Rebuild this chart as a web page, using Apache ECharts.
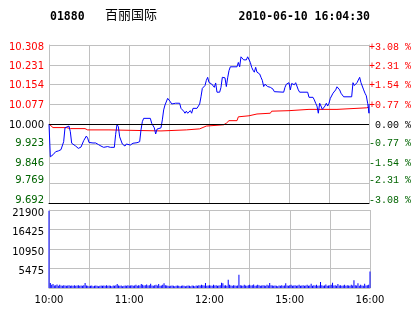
<!DOCTYPE html>
<html>
<head>
<meta charset="utf-8">
<script src="https://cdn.jsdelivr.net/npm/echarts@6/dist/echarts.min.js"></script>
<style>
  html, body { margin: 0; padding: 0; background: #fff; }
  #main { width: 414px; height: 314px; }
</style>
</head>
<body>
<div id="main"></div>
<script>
// 昨收价
var preClose = 10.000;
var stockCode = '01880';
var stockName = '百丽国际';
var quoteTime = '2010-06-10 16:04:30';

// 价格刻度 (左轴)
var priceTicks = [9.692, 9.769, 9.846, 9.923, 10.000, 10.077, 10.154, 10.231, 10.308];
// 成交量刻度
var volTicks = [0, 5475, 10950, 16425, 21900];
// 时间刻度: 分钟序号 -> 标签 (10:00-12:30, 14:30-16:00)
var timeTickMin = [0, 60, 120, 180, 240];
var timeTickLabel = ['10:00', '11:00', '12:00', '15:00', '16:00'];

// 分时价格 (分钟序号, 价格)
var trendMin = [0, 1, 2, 3, 4, 5, 6, 7, 9, 10, 11, 12, 13, 15, 16, 17, 18, 20, 22, 24,
  25, 26, 28, 29, 30, 33, 35, 37, 39, 41, 44, 46, 49, 50, 51, 52, 53, 55, 57, 58,
  61, 62, 63, 66, 68, 69, 70, 71, 76, 77, 79, 80, 81, 82, 84, 85, 86, 87, 89, 90,
  91, 92, 93, 95, 98, 99, 101, 102, 103, 104, 106, 107, 108, 111, 113, 114, 115, 117, 118, 119,
  120, 122, 123, 124, 125, 126, 128, 129, 130, 132, 133, 134, 135, 136, 141, 142, 143, 144, 145, 146,
  148, 149, 150, 151, 152, 153, 154, 155, 156, 158, 159, 160, 161, 162, 163, 164, 165, 166, 168, 169,
  170, 176, 177, 178, 179, 180, 181, 182, 184, 185, 186, 187, 188, 194, 195, 198, 199, 200, 201, 202,
  203, 204, 205, 207, 208, 209, 210, 211, 213, 214, 215, 216, 218, 219, 220, 221, 227, 228, 229, 230,
  231, 233, 234, 235, 236, 237, 238, 239, 240, 240];
var trendPrice = [10.000, 9.872, 9.872, 9.880, 9.886, 9.892, 9.890, 9.895, 9.900, 9.903, 9.931, 9.985, 9.992, 9.992, 9.970, 9.925, 9.918, 9.914, 9.905, 9.910,
  9.905, 9.935, 9.953, 9.945, 9.928, 9.926, 9.926, 9.920, 9.914, 9.909, 9.912, 9.909, 9.909, 9.960, 9.998, 9.990, 9.950, 9.922, 9.914, 9.922,
  9.918, 9.912, 9.925, 9.927, 9.931, 9.977, 10.009, 10.022, 10.022, 10.003, 9.985, 9.961, 9.980, 9.975, 9.985, 10.016, 10.055, 10.074, 10.100, 10.094,
  10.087, 10.078, 10.074, 10.081, 10.081, 10.061, 10.050, 10.042, 10.050, 10.042, 10.052, 10.042, 10.061, 10.061, 10.078, 10.106, 10.139, 10.150, 10.170, 10.182,
  10.162, 10.156, 10.156, 10.143, 10.160, 10.124, 10.124, 10.143, 10.182, 10.180, 10.146, 10.180, 10.208, 10.223, 10.223, 10.240, 10.223, 10.262, 10.262, 10.250,
  10.250, 10.262, 10.262, 10.240, 10.221, 10.210, 10.202, 10.221, 10.202, 10.195, 10.182, 10.170, 10.146, 10.155, 10.158, 10.146, 10.150, 10.143, 10.136, 10.126,
  10.124, 10.124, 10.143, 10.155, 10.162, 10.161, 10.133, 10.158, 10.153, 10.161, 10.155, 10.133, 10.124, 10.124, 10.104, 10.104, 10.094, 10.081, 10.070, 10.042,
  10.081, 10.070, 10.057, 10.070, 10.081, 10.070, 10.081, 10.100, 10.120, 10.124, 10.133, 10.145, 10.133, 10.120, 10.124, 10.106, 10.106, 10.161, 10.150, 10.145,
  10.161, 10.182, 10.161, 10.158, 10.133, 10.120, 10.110, 10.081, 10.042, 10.078];

// 均价线
var avgMin = [0, 1, 3, 13, 16, 27, 29, 45, 46, 84, 85, 103, 104, 113, 114, 118, 119, 131, 133, 135,
  141, 142, 143, 150, 151, 156, 157, 166, 167, 180, 195, 216, 217, 238, 240];
var avgPrice = [10.000, 9.993, 9.986, 9.986, 9.982, 9.982, 9.977, 9.977, 9.973, 9.973, 9.977, 9.977, 9.981, 9.981, 9.986, 9.992, 9.997, 9.997, 10.003, 10.013,
  10.013, 10.028, 10.032, 10.032, 10.039, 10.039, 10.042, 10.042, 10.050, 10.052, 10.057, 10.057, 10.063, 10.063, 10.066];

// 每分钟成交量 (0..240)
var volume = [
  21700, 1400, 900, 1100, 700, 800, 1000, 600, 900, 700, 600, 800, 700, 600, 700, 800, 600, 700, 600, 800,
  600, 700, 800, 600, 700, 600, 800, 1400, 700, 600, 500, 600, 700, 500, 600, 700, 600, 500, 600, 700,
  600, 700, 600, 800, 600, 700, 600, 500, 700, 600, 800, 1100, 700, 600, 700, 500, 600, 700, 600, 800,
  600, 700, 800, 600, 700, 900, 600, 800, 700, 1100, 900, 700, 800, 1000, 700, 800, 1200, 700, 600, 800,
  900, 700, 1100, 600, 700, 900, 1300, 800, 700, 600, 500, 600, 700, 600, 500, 600, 700, 600, 500, 600,
  700, 600, 500, 600, 700, 600, 500, 700, 600, 500, 700, 600, 800, 700, 900, 800, 700, 1400, 600, 700,
  800, 700, 600, 900, 700, 800, 600, 700, 800, 1500, 1300, 700, 800, 600, 2300, 900, 700, 600, 800, 700,
  600, 700, 3700, 800, 700, 600, 900, 700, 600, 800, 900, 700, 800, 1000, 600, 700, 900, 800, 600, 700,
  800, 700, 600, 900, 700, 1400, 800, 700, 600, 700, 600, 500, 700, 600, 800, 600, 700, 1300, 700, 600,
  800, 900, 600, 700, 800, 600, 700, 900, 600, 700, 800, 600, 700, 900, 600, 700, 1200, 600, 800, 700,
  900, 600, 700, 1700, 800, 600, 700, 1000, 600, 700, 800, 900, 1500, 700, 800, 600, 1100, 700, 800, 600,
  700, 900, 600, 800, 700, 600, 900, 700, 2200, 800, 700, 1300, 600, 900, 700, 600, 1200, 700, 800, 900,
  4600
];

var gridColor = '#c0c0c0';
var upColor = '#ff0000';
var downColor = '#006400';

function pairs(xs, ys) {
  var out = [];
  for (var i = 0; i < xs.length; i++) out.push([xs[i], ys[i]]);
  return out;
}
var volData = volume.map(function (v, i) { return [i, v]; });

function priceColor(v) {
  var d = Math.round((v - preClose) * 1000);
  if (d > 0) return upColor;
  if (d < 0) return downColor;
  return '#000';
}
function pctText(v) {
  var p = (v - preClose) / preClose * 100;
  if (Math.abs(p) < 0.005) return ' 0.00 %';
  return (p > 0 ? '+' : '-') + Math.abs(p).toFixed(2) + ' %';
}

// 标签相对网格线的上下偏移 (像素, 正数向下), 按价格刻度序号
var priceLabelShift = [-3, -2.5, -0.5, 0, 1, 1, 1, 2, 2.5];
// 用 rich 文本的 padding 实现偏移
var shiftRich = {};
[-3, -2.5, -0.5, 0, 1, 2, 2.5, 3].forEach(function (s) {
  var key = 's' + String(s).replace('-', 'm').replace('.', '_');
  shiftRich[key] = { padding: s >= 0 ? [2 * s, 0, 0, 0] : [0, 0, -2 * s, 0] };
});
function shifted(text, s) {
  var key = 's' + String(s).replace('-', 'm').replace('.', '_');
  return '{' + key + '|' + text + '}';
}
function priceShift(v) {
  var k = Math.round((v - priceTicks[0]) / 0.077);
  return priceLabelShift[k] || 0;
}

var myChart = echarts.init(document.getElementById('main'));
var labelFont = 'DejaVu Sans';

var option = {
  animation: false,
  backgroundColor: '#fff',
  graphic: [
    { type: 'text', left: 50, top: 11, style: { text: stockCode, font: 'bold 11.5px "DejaVu Sans Mono"', fill: '#000' } },
    { type: 'text', left: 105, top: 8, style: { text: stockName, font: '13px "Noto Sans CJK SC"', fill: '#000' } },
    { type: 'text', right: 44, top: 11, style: { text: quoteTime, font: 'bold 11.5px "DejaVu Sans Mono"', fill: '#000' } }
  ],
  grid: [
    { left: 49, top: 45, width: 321, height: 158 },
    { left: 49, top: 210, width: 321, height: 78 }
  ],
  xAxis: [
    {
      type: 'value', gridIndex: 0, min: 0, max: 240, interval: 30,
      axisLine: { show: true, lineStyle: { color: '#000', width: 1 } },
      axisTick: { show: false }, axisLabel: { show: false },
      splitLine: { show: true, lineStyle: { color: gridColor, width: 1 } }
    },
    {
      type: 'value', gridIndex: 1, min: 0, max: 240, interval: 30,
      axisLine: { show: true, lineStyle: { color: gridColor, width: 1 } },
      axisTick: { show: false },
      axisLabel: {
        margin: 7, color: '#000', fontFamily: labelFont, fontSize: 10,
        formatter: function (v) {
          var k = timeTickMin.indexOf(v);
          return k >= 0 ? timeTickLabel[k] : '';
        }
      },
      splitLine: { show: true, lineStyle: { color: gridColor, width: 1 } }
    }
  ],
  yAxis: [
    {
      type: 'value', gridIndex: 0,
      min: priceTicks[0], max: priceTicks[priceTicks.length - 1], interval: 0.077,
      axisLine: { show: true, lineStyle: { color: gridColor } },
      axisTick: { show: false },
      axisLabel: {
        margin: 5, fontFamily: labelFont, fontSize: 10,
        formatter: function (v) { return shifted(v.toFixed(3), priceShift(v)); },
        color: function (v) { return priceColor(Number(v)); },
        rich: shiftRich
      },
      splitLine: { show: true, lineStyle: { color: gridColor, width: 1 } }
    },
    {
      type: 'value', gridIndex: 0, position: 'right',
      min: priceTicks[0], max: priceTicks[priceTicks.length - 1], interval: 0.077,
      axisLine: { show: true, lineStyle: { color: gridColor } },
      axisTick: { show: false },
      axisLabel: {
        margin: 0, fontFamily: 'Liberation Mono', fontSize: 10, align: 'left',
        formatter: function (v) { return shifted(pctText(v), priceShift(v)); },
        color: function (v) { return priceColor(Number(v)); },
        rich: shiftRich
      },
      splitLine: { show: false }
    },
    {
      type: 'value', gridIndex: 1,
      min: volTicks[0], max: volTicks[volTicks.length - 1], interval: 5475,
      axisLine: { show: true, lineStyle: { color: gridColor } },
      axisTick: { show: false },
      axisLabel: {
        margin: 5, color: '#000', fontFamily: labelFont, fontSize: 10, showMinLabel: false,
        formatter: function (v) { return shifted(String(v), 3); },
        rich: shiftRich
      },
      splitLine: { show: true, lineStyle: { color: gridColor, width: 1 } }
    }
  ],
  series: [
    {
      name: '均价', type: 'line', xAxisIndex: 0, yAxisIndex: 0,
      data: pairs(avgMin, avgPrice), symbol: 'none',
      lineStyle: { color: '#ff0000', width: 1 }, z: 3
    },
    {
      name: '价格', type: 'line', xAxisIndex: 0, yAxisIndex: 0,
      data: pairs(trendMin, trendPrice), symbol: 'none',
      lineStyle: { color: '#0000ff', width: 1 }, z: 4,
      markLine: {
        silent: true, symbol: 'none', label: { show: false },
        lineStyle: { color: '#000', width: 1, type: 'solid' },
        data: [{ yAxis: preClose }]
      }
    },
    {
      name: '成交量', type: 'bar', xAxisIndex: 1, yAxisIndex: 2,
      data: volData, barWidth: 1,
      itemStyle: { color: '#0000ff' }
    }
  ]
};
myChart.setOption(option);
</script>
</body>
</html>
